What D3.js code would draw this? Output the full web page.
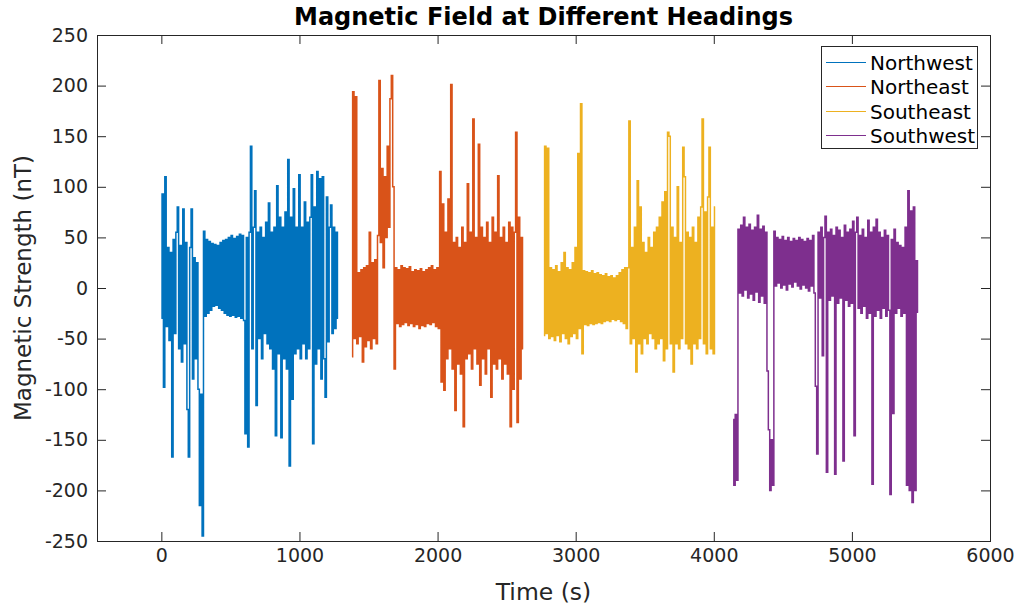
<!DOCTYPE html>
<html><head><meta charset="utf-8">
<script src="https://cdn.jsdelivr.net/npm/d3@7"></script>
<style>
html,body{margin:0;padding:0;background:#fff;}
svg{display:block;font-family:"DejaVu Sans",sans-serif;}
</style></head>
<body><svg id="chart" width="1022" height="606"></svg>
<script>
// ---- data (values every 10 s) ----
const seriesNames = ["Northwest","Northeast","Southeast","Southwest"];
const seriesColors = ["#0072BD","#D95319","#EDB120","#7E2F8E"];
const sampleStep = 10;
const startTimes = [0, 1380, 2770, 4140];
const xTicks = [0,1000,2000,3000,4000,5000,6000];
const yTicks = [-250,-200,-150,-100,-50,0,50,100,150,200,250];

const northwest = [
 -30,93,-98,110,-38,40,-52,35,-167,48,
 -45,55,80,-60,42,-73,78,-55,45,-120,
 -167,40,78,-90,30,-70,25,-100,-215,-105,
 -245,56,-28,48,-25,46,-22,44,-18,43,
 -17,42,-20,45,-22,47,-25,48,-27,50,
 -28,52,-27,49,-29,51,-28,53,-30,52,
 -32,-144,50,-157,55,140,-60,60,96,-116,
 55,-50,60,-70,50,-45,65,-55,84,-60,
 55,-80,60,-146,101,-65,70,-148,60,-70,
 75,-80,127,-176,70,-110,98,-65,60,-60,
 112,-70,60,-55,85,-70,65,-60,70,112,
 -154,80,-75,115,-60,108,-90,110,-70,-108,
 90,-53,60,82,-45,60,-40,55,-30
];
const northeast = [
 -68,194,-50,189,-55,15,-48,18,-73,20,
 -58,22,-52,55,-60,25,-50,28,-55,52,
 205,45,118,20,110,50,140,60,187,210,
 100,-80,20,-35,18,-38,22,-36,20,-34,
 19,-37,21,-35,16,-38,18,-36,17,-40,
 19,-37,16,-38,18,-35,20,-36,22,-34,
 18,-38,20,-40,115,-93,83,-101,55,-70,
 88,-60,201,-80,45,-121,50,-75,40,-85,
 60,-137,45,-70,103,-65,55,-80,167,-60,
 50,-75,142,-96,60,-70,50,-85,65,-60,
 45,-108,70,-75,55,-80,111,-70,50,-90,
 60,-75,45,-85,65,-137,60,-100,55,154,
 -133,70,-90,50,-60
];
const southeast = [
 -47,140,-45,138,-50,20,-48,18,-52,22,
 -47,16,-53,25,-45,35,-50,20,-55,18,
 -48,25,-45,40,-50,133,-40,182,-65,17,
 -36,16,-37,15,-35,17,-36,14,-35,15,
 -34,13,-35,12,-33,14,-32,11,-33,12,
 -31,10,-32,12,-31,15,-33,18,-35,20,
 -40,20,165,-55,40,-50,60,-83,106,-55,
 80,-65,45,-50,35,-55,50,-45,40,-50,
 55,-60,60,-55,70,-50,85,-72,95,-60,
 154,150,-55,60,-83,50,-55,100,-60,45,
 -50,139,110,-55,55,-60,50,-75,60,-55,
 45,-60,70,-50,80,167,-55,75,-65,90,
 139,-60,60,-65,80
];
const southwest = [
 -130,-195,-125,-190,58,-5,62,-8,70,-2,
 60,-10,63,-6,57,-12,60,-4,72,-14,
 58,-8,61,-15,55,-82,-140,-200,-150,-195,
 56,2,50,5,48,0,51,3,47,-2,
 50,4,46,1,49,6,47,2,50,-1,
 48,3,46,0,49,-3,47,2,52,-5,
 -97,-164,55,-10,60,-67,50,71,-182,55,
 -12,58,-8,52,-184,60,-15,57,-10,50,
 -171,62,-12,55,-18,58,-15,66,-146,55,
 70,-20,52,-25,58,-18,50,-30,67,-25,
 55,-194,60,-28,68,-22,55,-30,50,-20,
 57,-28,52,-22,-204,48,-124,58,-25,45,
 -20,42,-28,40,-25,60,-195,96,-200,76,
 -212,80,-200,27,-24
];
const seriesValues = [northwest, northeast, southeast, southwest];

// ---- layout ----
const svg = d3.select("#chart");
const L = 97, R = 990, T = 35, B = 541;
const axisColor = "#262626";
const x = d3.scaleLinear().domain([-466, 6000]).range([L, R]);
const y = d3.scaleLinear().domain([-250, 250]).range([B, T]);

svg.append("rect").attr("width",1022).attr("height",606).attr("fill","#fff");

// lines (dense signal: step rendering so each sample reads as a vertical stroke)
const line = d3.line().curve(d3.curveStep).x(d => x(d[0])).y(d => y(d[1]));
const g = svg.append("g");
seriesValues.forEach((vals, k) => {
  const pts = vals.map((v, i) => [startTimes[k] + i * sampleStep, v]);
  g.append("path").datum(pts)
    .attr("d", line)
    .attr("fill","none")
    .attr("stroke", seriesColors[k])
    .attr("stroke-width", 1.5)
    .attr("stroke-linejoin","miter");
});

// axes
const fmt = d => String(d);
function styleAxis(sel, labels){
  sel.select(".domain").remove();
  sel.selectAll(".tick line").attr("stroke", axisColor).attr("stroke-width",1);
  sel.selectAll(".tick text").attr("fill", axisColor)
     .style("font-size","19px").style("font-family","'DejaVu Sans',sans-serif");
  if(!labels) sel.selectAll(".tick text").remove();
}
const xb = svg.append("g").attr("transform",`translate(0,${B})`)
  .call(d3.axisBottom(x).tickValues(xTicks).tickSizeInner(-9).tickSizeOuter(0).tickPadding(8).tickFormat(fmt));
styleAxis(xb, true);
const xt = svg.append("g").attr("transform",`translate(0,${T})`)
  .call(d3.axisTop(x).tickValues(xTicks).tickSizeInner(-9).tickSizeOuter(0));
styleAxis(xt, false);
const yl = svg.append("g").attr("transform",`translate(${L},0)`)
  .call(d3.axisLeft(y).tickValues(yTicks).tickSizeInner(-9).tickSizeOuter(0).tickPadding(9).tickFormat(fmt));
styleAxis(yl, true);
const yr = svg.append("g").attr("transform",`translate(${R},0)`)
  .call(d3.axisRight(y).tickValues(yTicks).tickSizeInner(-9).tickSizeOuter(0));
styleAxis(yr, false);

svg.append("rect").attr("x",L+0.5).attr("y",T+0.5).attr("width",R-L).attr("height",B-T)
  .attr("fill","none").attr("stroke",axisColor).attr("stroke-width",1);

// titles
svg.append("text").attr("x",(L+R)/2).attr("y",25).attr("text-anchor","middle")
  .style("font-size","24px").style("font-weight","bold").attr("fill","#000")
  .text("Magnetic Field at Different Headings");
svg.append("text").attr("x",(L+R)/2).attr("y",600).attr("text-anchor","middle")
  .style("font-size","23.5px").attr("fill",axisColor).text("Time (s)");
svg.append("text").attr("transform",`translate(31,${(T+B)/2}) rotate(-90)`).attr("text-anchor","middle")
  .style("font-size","23px").attr("fill",axisColor).text("Magnetic Strength (nT)");

// legend
const lg = svg.append("g");
lg.append("rect").attr("x",821.5).attr("y",46.5).attr("width",156).attr("height",102)
  .attr("fill","#fff").attr("stroke",axisColor).attr("stroke-width",1);
seriesNames.forEach((n, k) => {
  const cy = Math.round(62 + k * 24.4) + 0.5;
  lg.append("line").attr("x1",826).attr("x2",866).attr("y1",cy).attr("y2",cy)
    .attr("stroke",seriesColors[k]).attr("stroke-width",1.2);
  lg.append("text").attr("x",870).attr("y",cy).attr("dy","0.36em")
    .style("font-size","20px").attr("fill","#000").text(n);
});
</script>
</body></html>
